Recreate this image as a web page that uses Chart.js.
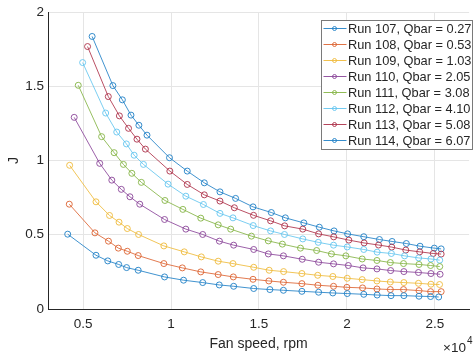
<!DOCTYPE html>
<html>
<head>
<meta charset="utf-8">
<title>J vs fan speed</title>
<script src="https://cdn.jsdelivr.net/npm/chart.js@4.4.1/dist/chart.umd.min.js"></script>
<style>
    html, body { margin: 0; padding: 0; background: #fff; overflow: hidden; }
    #wrap { position: relative; width: 474px; height: 358px; }
</style>
</head>
<body>
<div id="wrap"><canvas id="fanChart" width="474" height="358"></canvas></div>
<script>
// Runs and their mean flow
const runIds = [107, 108, 109, 110, 111, 112, 113, 114];
const qbar = [0.27, 0.53, 1.03, 2.05, 3.08, 4.10, 5.08, 6.07];

// Fan speed (rpm) for each run
const speed107 = [4120, 5730, 6400, 7020, 7470, 8130, 9630, 10710, 11800, 12740, 13560, 14700, 15620, 16390, 17440, 18390, 19200, 20020, 20960, 21720, 22510, 23240, 24100, 24760, 25220];
const speed108 = [4210, 5670, 6440, 7000, 7510, 8130, 9590, 10640, 11690, 12680, 13540, 14660, 15560, 16390, 17440, 18350, 19240, 20000, 20890, 21710, 22470, 23220, 24100, 24760, 25360];
const speed109 = [4230, 5730, 6500, 7040, 7510, 8150, 9590, 10750, 11720, 12680, 13520, 14700, 15580, 16400, 17440, 18340, 19200, 20020, 20870, 21710, 22470, 23240, 24070, 24780, 25270];
const speed110 = [4490, 5940, 6630, 7170, 7660, 8220, 9630, 10840, 11800, 12750, 13560, 14700, 15530, 16390, 17460, 18390, 19240, 20080, 20920, 21710, 22490, 23240, 24070, 24780, 25300];
const speed111 = [4720, 6050, 6760, 7290, 7770, 8310, 9650, 10670, 11690, 12680, 13390, 14570, 15530, 16330, 17360, 18280, 19120, 19940, 20870, 21710, 22470, 23220, 24100, 24760, 25280];
const speed112 = [4970, 6280, 6910, 7460, 7900, 8430, 9830, 10840, 11840, 12780, 13520, 14670, 15660, 16450, 17490, 18370, 19240, 20020, 20960, 21720, 22530, 23280, 24080, 24780, 25280];
const speed113 = [5250, 6430, 7060, 7580, 8060, 8540, 9930, 10920, 11890, 12780, 13600, 14690, 15660, 16460, 17490, 18390, 19250, 20110, 20980, 21800, 22550, 23350, 24140, 24910, 25360];
const speed114 = [5510, 6690, 7230, 7720, 8170, 8630, 9910, 10920, 11890, 12780, 13670, 14660, 15700, 16500, 17550, 18430, 19270, 20040, 20960, 21850, 22570, 23380, 24160, 24970, 25360];

// J for each run
const j107 = [0.504, 0.362, 0.324, 0.300, 0.279, 0.261, 0.216, 0.194, 0.178, 0.162, 0.153, 0.138, 0.131, 0.126, 0.119, 0.113, 0.108, 0.104, 0.099, 0.094, 0.090, 0.090, 0.086, 0.084, 0.081];
const j108 = [0.706, 0.513, 0.457, 0.410, 0.389, 0.360, 0.306, 0.277, 0.250, 0.232, 0.216, 0.200, 0.189, 0.180, 0.171, 0.160, 0.153, 0.146, 0.142, 0.135, 0.131, 0.131, 0.124, 0.117, 0.117];
const j109 = [0.968, 0.722, 0.630, 0.585, 0.542, 0.502, 0.425, 0.385, 0.351, 0.322, 0.306, 0.281, 0.261, 0.252, 0.239, 0.227, 0.219, 0.207, 0.198, 0.189, 0.182, 0.178, 0.173, 0.167, 0.165];
const j110 = [1.291, 0.981, 0.868, 0.806, 0.756, 0.706, 0.603, 0.538, 0.502, 0.457, 0.430, 0.401, 0.371, 0.358, 0.335, 0.315, 0.304, 0.293, 0.277, 0.270, 0.259, 0.252, 0.246, 0.239, 0.234];
const j111 = [1.507, 1.161, 1.053, 0.974, 0.914, 0.853, 0.731, 0.671, 0.612, 0.567, 0.538, 0.491, 0.459, 0.437, 0.410, 0.394, 0.371, 0.358, 0.337, 0.327, 0.313, 0.306, 0.300, 0.293, 0.286];
const j112 = [1.660, 1.320, 1.192, 1.112, 1.036, 0.974, 0.841, 0.760, 0.704, 0.644, 0.614, 0.562, 0.526, 0.502, 0.472, 0.449, 0.430, 0.418, 0.401, 0.383, 0.374, 0.358, 0.344, 0.337, 0.329];
const j113 = [1.768, 1.431, 1.301, 1.217, 1.144, 1.077, 0.929, 0.839, 0.769, 0.727, 0.682, 0.631, 0.594, 0.560, 0.538, 0.506, 0.486, 0.464, 0.445, 0.431, 0.417, 0.397, 0.385, 0.374, 0.370];
const j114 = [1.836, 1.505, 1.409, 1.306, 1.238, 1.171, 1.019, 0.929, 0.850, 0.789, 0.745, 0.688, 0.650, 0.614, 0.580, 0.551, 0.526, 0.506, 0.487, 0.468, 0.455, 0.441, 0.423, 0.410, 0.405];

// Axis ticks
const xTicks = [5000, 10000, 15000, 20000, 25000];
const yTicks = [0, 0.5, 1, 1.5, 2];

const speeds = [speed107, speed108, speed109, speed110, speed111, speed112, speed113, speed114];
const jValues = [j107, j108, j109, j110, j111, j112, j113, j114];
const colors = ['#1f80c6', '#dd6331', '#efba3a', '#8a4599', '#84b444', '#63c5ef', '#ad3048', '#1f80c6'];

const textColor = '#262626';
const fontFamily = '"Liberation Sans", Arial, Helvetica, sans-serif';

const datasets = runIds.map(function(run, i) {
    return {
        label: 'Run ' + run + ', Qbar = ' + qbar[i].toFixed(2),
        data: speeds[i].map((s, k) => ({ x: s, y: jValues[i][k] })),
        borderColor: colors[i],
        borderWidth: 0.85,
        backgroundColor: 'rgba(0,0,0,0)',
        pointStyle: 'circle',
        pointRadius: 3,
        pointBorderWidth: 0.9,
        pointBorderColor: colors[i],
        pointBackgroundColor: 'rgba(0,0,0,0)',
        tension: 0,
        fill: false
    };
});

/**
 * Boxed legend in the upper right corner plus the x10^4 exponent label
 */
const extrasPlugin = {
    id: 'extras',
    afterDraw(chart) {
        const ctx = chart.ctx;
        const sets = chart.data.datasets;

        // exponent under the right end of the x axis
        ctx.save();
        ctx.fillStyle = textColor;
        ctx.textBaseline = 'alphabetic';
        ctx.textAlign = 'left';
        ctx.font = '13.5px ' + fontFamily;
        ctx.fillText('\u00d710', 443, 352);
        ctx.font = '10px ' + fontFamily;
        ctx.fillText('4', 467, 344);
        ctx.restore();

        // legend
        const x0 = 321.5, y0 = 20.5, w = 151, rowH = 16;
        const h = rowH * sets.length + 1;
        ctx.save();
        ctx.fillStyle = '#ffffff';
        ctx.fillRect(x0, y0, w, h);
        ctx.strokeStyle = '#7a7a7a';
        ctx.lineWidth = 1;
        ctx.strokeRect(x0, y0, w, h);
        ctx.font = '12.8px ' + fontFamily;
        ctx.textBaseline = 'middle';
        ctx.textAlign = 'left';
        sets.forEach(function(ds, i) {
            const cy = y0 + 8 + i * rowH;
            ctx.strokeStyle = ds.borderColor;
            ctx.lineWidth = 0.9;
            ctx.beginPath();
            ctx.moveTo(x0 + 2, cy);
            ctx.lineTo(x0 + 25, cy);
            ctx.stroke();
            ctx.beginPath();
            ctx.arc(x0 + 13, cy, 2, 0, Math.PI * 2);
            ctx.stroke();
            ctx.fillStyle = textColor;
            ctx.fillText(ds.label, x0 + 26.5, cy + 0.5);
        });
        ctx.restore();
    }
};

const chart = new Chart(document.getElementById('fanChart'), {
    type: 'line',
    data: { datasets: datasets },
    options: {
        responsive: false,
        animation: false,
        devicePixelRatio: 1,
        layout: { padding: { top: 12, right: 0, bottom: 0, left: 0 } },
        plugins: {
            legend: { display: false },
            tooltip: { enabled: false }
        },
        scales: {
            x: {
                type: 'linear',
                min: 3000,
                max: 26950,
                afterFit: function(scale) { scale.height = 49; },
                afterBuildTicks: function(scale) {
                    scale.ticks = xTicks.map(v => ({ value: v }));
                },
                ticks: {
                    color: textColor,
                    font: { family: fontFamily, size: 13.5 },
                    padding: 7,
                    maxRotation: 0,
                    callback: v => String(v / 10000)
                },
                grid: { color: '#e5e5e5', drawTicks: false },
                border: { color: '#262626', width: 1 },
                title: {
                    display: true,
                    text: 'Fan speed, rpm',
                    color: textColor,
                    font: { family: fontFamily, size: 14 },
                    padding: { top: 0, bottom: 5 }
                }
            },
            y: {
                type: 'linear',
                min: 0,
                max: 2,
                afterFit: function(scale) { scale.width = 48; },
                afterBuildTicks: function(scale) {
                    scale.ticks = yTicks.map(v => ({ value: v }));
                },
                ticks: {
                    color: textColor,
                    font: { family: fontFamily, size: 13.5 },
                    padding: 4,
                    callback: v => String(v)
                },
                grid: { color: '#e5e5e5', drawTicks: false },
                border: { color: '#262626', width: 1 },
                title: {
                    display: true,
                    text: 'J',
                    color: textColor,
                    font: { family: fontFamily, size: 14 },
                    padding: { top: 6, bottom: 0 }
                }
            }
        }
    },
    plugins: [extrasPlugin]
});
</script>
</body>
</html>
